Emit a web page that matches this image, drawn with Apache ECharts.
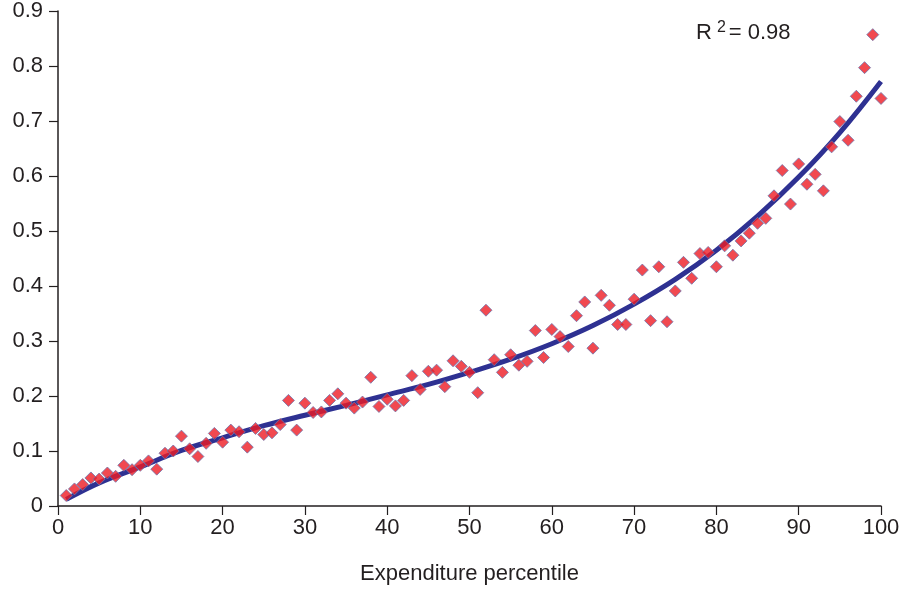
<!DOCTYPE html>
<html>
<head>
<meta charset="utf-8">
<title>Expenditure percentile</title>
<script src="https://cdn.jsdelivr.net/npm/echarts@6/dist/echarts.min.js"></script>
<style>
  html, body { margin: 0; padding: 0; background: #ffffff; }
  #chart { width: 903px; height: 590px; }
</style>
</head>
<body>
<div id="chart"></div>
<script>
// Observed share at each expenditure percentile (1..100)
const percentiles = Array.from({ length: 100 }, (_, i) => i + 1);
const observed = [
  0.019, 0.031, 0.039, 0.051, 0.049, 0.060, 0.054, 0.074, 0.066, 0.074,
  0.082, 0.067, 0.096, 0.100, 0.127, 0.104, 0.090, 0.114, 0.132, 0.116,
  0.138, 0.135, 0.107, 0.141, 0.130, 0.133, 0.148, 0.192, 0.138, 0.187,
  0.170, 0.171, 0.192, 0.204, 0.187, 0.178, 0.189, 0.234, 0.181, 0.194,
  0.182, 0.192, 0.237, 0.212, 0.245, 0.247, 0.217, 0.264, 0.254, 0.243,
  0.206, 0.356, 0.266, 0.243, 0.275, 0.256, 0.263, 0.319, 0.270, 0.321,
  0.308, 0.290, 0.346, 0.371, 0.287, 0.383, 0.365, 0.330, 0.330, 0.376,
  0.429, 0.337, 0.435, 0.335, 0.391, 0.443, 0.414, 0.459, 0.461, 0.435,
  0.473, 0.456, 0.482, 0.496, 0.514, 0.523, 0.564, 0.610, 0.549, 0.622,
  0.585, 0.603, 0.573, 0.653, 0.699, 0.665, 0.745, 0.797, 0.857, 0.741
];

// Fitted trend curve
const trendX = [1, 5, 10, 15, 20, 25, 30, 35, 40, 45, 50, 55, 60, 65, 70, 75, 80, 85, 90, 95, 100];
const trendY = [0.012, 0.042, 0.071, 0.101, 0.124, 0.146, 0.165, 0.183, 0.202, 0.221, 0.243, 0.267, 0.295, 0.328, 0.367, 0.412, 0.465, 0.527, 0.598, 0.679, 0.772];

const xTicks = { min: 0, max: 100, interval: 10 };
const yTicks = { min: 0, max: 0.9, interval: 0.1 };
const fitLabel = { r: 'R', sup: '2', rest: '= 0.98' };

const ink = '#231f20';
const font = '"Liberation Sans", Arial, Helvetica, sans-serif';

const chart = echarts.init(document.getElementById('chart'), null, { renderer: 'canvas' });

chart.setOption({
  animation: false,
  backgroundColor: '#ffffff',
  grid: { left: 58, right: 22, top: 10, bottom: 83 },
  xAxis: {
    type: 'value',
    min: xTicks.min, max: xTicks.max, interval: xTicks.interval,
    name: 'Expenditure percentile',
    nameLocation: 'middle',
    nameGap: 57,
    nameTextStyle: { color: ink, fontSize: 22, fontFamily: font },
    axisLine: { show: true, onZero: false, lineStyle: { color: ink, width: 1.5 } },
    axisTick: { show: true, length: 9, lineStyle: { color: ink, width: 1.2 } },
    axisLabel: { color: ink, fontSize: 22, fontFamily: font, margin: 11 },
    splitLine: { show: false }
  },
  yAxis: {
    type: 'value',
    min: yTicks.min, max: yTicks.max, interval: yTicks.interval,
    axisLine: { show: true, onZero: false, lineStyle: { color: ink, width: 1.5 } },
    axisTick: { show: true, length: 9, lineStyle: { color: ink, width: 1.2 } },
    axisLabel: {
      color: ink, fontSize: 22, fontFamily: font, margin: 15,
      formatter: v => (Math.round(v * 10) / 10).toString()
    },
    splitLine: { show: false }
  },
  series: [
    {
      type: 'line',
      data: trendX.map((x, i) => [x, trendY[i]]),
      smooth: 0.4,
      showSymbol: false,
      symbol: 'none',
      lineStyle: { color: '#2e3192', width: 5 },
      z: 2
    },
    {
      type: 'scatter',
      data: percentiles.map((x, i) => [x, observed[i]]),
      symbol: 'diamond',
      symbolSize: 12,
      itemStyle: { color: '#ed1c24', borderColor: '#6f74ad', borderWidth: 1 },
      z: 3
    }
  ],
  graphic: [
    {
      type: 'text',
      left: 696,
      top: 20,
      style: {
        text: '{r|' + fitLabel.r + '}{sup|' + fitLabel.sup + '}{r|' + fitLabel.rest + '}',
        rich: {
          r: { fontSize: 22, fontFamily: font, fill: ink, color: ink },
          sup: { fontSize: 16, fontFamily: font, fill: ink, color: ink, padding: [0, 3, 10, 5], verticalAlign: 'top' }
        }
      }
    }
  ]
});
</script>
</body>
</html>
